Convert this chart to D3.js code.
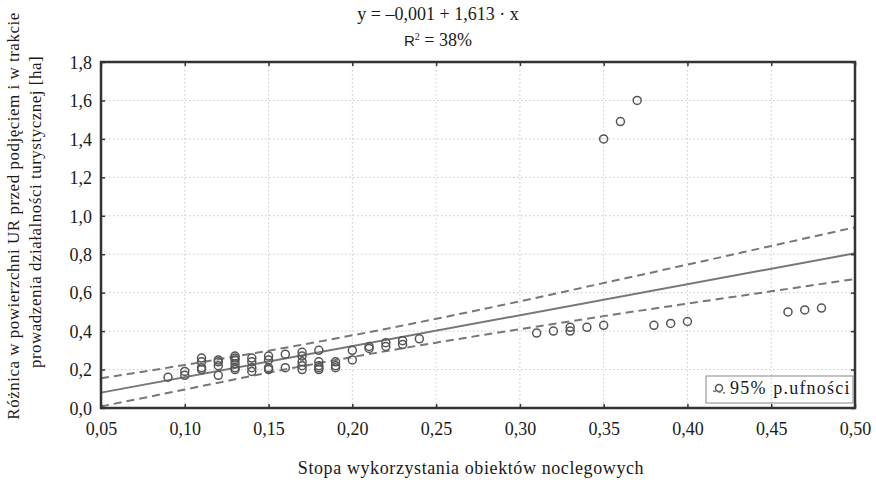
<!DOCTYPE html>
<html>
<head>
<meta charset="utf-8">
<script src="https://cdn.jsdelivr.net/npm/d3@7"></script>
<style>
  html, body { margin: 0; padding: 0; background: #fff; }
  svg { display: block; }
</style>
</head>
<body>
<svg id="chart" width="876" height="482"></svg>
<script>
// ---- data ----
const pointX = [0.09, 0.10, 0.10,
  0.11, 0.11, 0.11, 0.11,
  0.12, 0.12, 0.12, 0.12,
  0.13, 0.13, 0.13, 0.13, 0.13, 0.13,
  0.14, 0.14, 0.14, 0.14,
  0.15, 0.15, 0.15, 0.15,
  0.16, 0.16,
  0.17, 0.17, 0.17, 0.17, 0.17,
  0.18, 0.18, 0.18, 0.18, 0.18,
  0.19, 0.19, 0.19,
  0.20, 0.20,
  0.21, 0.21,
  0.22, 0.22,
  0.23, 0.23,
  0.24,
  0.31, 0.32, 0.33, 0.33, 0.34, 0.35, 0.35, 0.36, 0.37,
  0.38, 0.39, 0.40, 0.46, 0.47, 0.48];
const pointY = [0.16, 0.19, 0.17,
  0.26, 0.24, 0.21, 0.20,
  0.25, 0.24, 0.22, 0.17,
  0.27, 0.26, 0.25, 0.23, 0.21, 0.20,
  0.26, 0.24, 0.21, 0.19,
  0.27, 0.25, 0.21, 0.20,
  0.28, 0.21,
  0.29, 0.27, 0.24, 0.22, 0.20,
  0.30, 0.24, 0.22, 0.21, 0.20,
  0.24, 0.22, 0.21,
  0.30, 0.25,
  0.31, 0.32,
  0.32, 0.34,
  0.33, 0.35,
  0.36,
  0.39, 0.40, 0.40, 0.42, 0.42, 0.43, 1.40, 1.49, 1.60,
  0.43, 0.44, 0.45, 0.50, 0.51, 0.52];

// regression line y = -0,001 + 1,613 x (end points)
const fitX = [0.05, 0.50];
const fitY = [0.080, 0.805];

// 95% confidence band
const bandX = [0.05, 0.10, 0.15, 0.20, 0.25, 0.30, 0.35, 0.40, 0.45, 0.50];
const bandUpper = [0.155, 0.224, 0.298, 0.378, 0.464, 0.555, 0.650, 0.746, 0.843, 0.940];
const bandLower = [0.008, 0.096, 0.184, 0.265, 0.340, 0.410, 0.478, 0.543, 0.607, 0.671];

const xTicks = [0.05, 0.10, 0.15, 0.20, 0.25, 0.30, 0.35, 0.40, 0.45, 0.50];
const yTicks = [0.0, 0.2, 0.4, 0.6, 0.8, 1.0, 1.2, 1.4, 1.6, 1.8];

const titleLine1 = "y = \u20130,001 + 1,613 \u00b7 x";
const xTitle = "Stopa wykorzystania obiektów noclegowych";
const yTitle1 = "Różnica w powierzchni UR przed podjęciem i w trakcie";
const yTitle2 = "prowadzenia działalności turystycznej [ha]";
const legendLabel = "95% p.ufności";

// ---- layout ----
const SERIF = "'Liberation Serif', 'Times New Roman', Tinos, 'DejaVu Serif', serif";
const INK = "#1a1a1a";
const L = 101, R = 855, T = 62, B = 408;
const svg = d3.select("#chart");
const x = d3.scaleLinear().domain([0.05, 0.50]).range([L, R]);
const y = d3.scaleLinear().domain([0, 1.8]).range([B, T]);
const fmt = (d, n) => d.toFixed(n).replace(".", ",");

// grid
const grid = svg.append("g").attr("stroke", "#c8c8c8").attr("stroke-width", 1).attr("stroke-dasharray", "1.5,2.5");
grid.selectAll("line.gx").data(xTicks.slice(1, -1)).join("line")
  .attr("x1", d => x(d)).attr("x2", d => x(d)).attr("y1", T).attr("y2", B);
grid.selectAll("line.gy").data(yTicks.slice(1, -1)).join("line")
  .attr("y1", d => y(d)).attr("y2", d => y(d)).attr("x1", L).attr("x2", R);

// band
const bandLine = d3.line().curve(d3.curveMonotoneX).x(d => x(d[0])).y(d => y(d[1]));
[bandUpper, bandLower].forEach(arr => {
  svg.append("path").datum(bandX.map((v, i) => [v, arr[i]]))
    .attr("d", bandLine).attr("fill", "none").attr("stroke", "#777")
    .attr("stroke-width", 2).attr("stroke-dasharray", "8,5");
});

// fit
svg.append("path").datum(fitX.map((v, i) => [v, fitY[i]]))
  .attr("d", d3.line().x(d => x(d[0])).y(d => y(d[1])))
  .attr("fill", "none").attr("stroke", "#777").attr("stroke-width", 2);

// points
svg.append("g").selectAll("circle").data(pointX.map((v, i) => [v, pointY[i]])).join("circle")
  .attr("cx", d => x(d[0])).attr("cy", d => y(d[1])).attr("r", 4)
  .attr("fill", "none").attr("stroke", "#555").attr("stroke-width", 1.5);

// axes with inner ticks
const axB = svg.append("g").attr("transform", `translate(0,${B})`)
  .call(d3.axisBottom(x).tickValues(xTicks).tickSizeInner(-4).tickSizeOuter(0).tickPadding(14).tickFormat(d => fmt(d, 2)));
const axL = svg.append("g").attr("transform", `translate(${L},0)`)
  .call(d3.axisLeft(y).tickValues(yTicks).tickSizeInner(-4).tickSizeOuter(0).tickPadding(9).tickFormat(d => fmt(d, 1)));
const axT = svg.append("g").attr("transform", `translate(0,${T})`)
  .call(d3.axisTop(x).tickValues(xTicks).tickSizeInner(-4).tickSizeOuter(0).tickFormat(""));
const axR = svg.append("g").attr("transform", `translate(${R},0)`)
  .call(d3.axisRight(y).tickValues(yTicks).tickSizeInner(-4).tickSizeOuter(0).tickFormat(""));
[axB, axL, axT, axR].forEach(a => {
  a.attr("font-family", null).attr("font-size", null);
  a.select(".domain").remove();
  a.selectAll(".tick line").attr("stroke", "#333").attr("stroke-width", 1.5);
  a.selectAll("text").style("font-family", SERIF).style("font-size", "18px").attr("fill", INK);
});
axL.selectAll("text").attr("dy", "0.35em");

// frame
svg.append("rect").attr("x", L).attr("y", T).attr("width", R - L).attr("height", B - T)
  .attr("fill", "none").attr("stroke", "#333").attr("stroke-width", 2.5);

// legend
const lg = svg.append("g");
lg.append("rect").attr("x", 706).attr("y", 376).attr("width", 147).attr("height", 27)
  .attr("fill", "none").attr("stroke", "#888").attr("stroke-width", 1);
lg.append("circle").attr("cx", 719).attr("cy", 388).attr("r", 3.5).attr("fill", "none").attr("stroke", "#555").attr("stroke-width", 1.5);
lg.append("line").attr("x1", 713).attr("x2", 725).attr("y1", 391).attr("y2", 393).attr("stroke", "#777").attr("stroke-width", 1.5).attr("stroke-dasharray", "3,2");
lg.append("text").attr("x", 730).attr("y", 394).style("font-family", SERIF).style("font-size", "18px")
  .attr("letter-spacing", "1.2px").attr("word-spacing", "1px").attr("fill", INK).text(legendLabel);

// titles
svg.append("text").attr("x", 438).attr("y", 20).attr("text-anchor", "middle")
  .style("font-family", SERIF).style("font-size", "18px").attr("fill", INK).text(titleLine1);
const t2 = svg.append("text").attr("x", 438).attr("y", 46).attr("text-anchor", "middle")
  .style("font-family", SERIF).style("font-size", "18px").attr("fill", INK);
t2.append("tspan").style("font-family", "'Liberation Sans', Arial, sans-serif").style("font-size", "15px").text("R");
t2.append("tspan").style("font-size", "10px").attr("dy", -6).text("2");
t2.append("tspan").attr("dy", 6).text(" = 38%");

svg.append("text").attr("x", 471).attr("y", 474).attr("text-anchor", "middle")
  .style("font-family", SERIF).style("font-size", "18px").attr("fill", INK)
  .attr("letter-spacing", "0.6px").text(xTitle);

svg.append("text").attr("transform", "translate(19,216) rotate(-90)").attr("text-anchor", "middle")
  .style("font-family", SERIF).style("font-size", "17px").attr("fill", INK)
  .attr("letter-spacing", "0.5px").text(yTitle1);
svg.append("text").attr("transform", "translate(41,212) rotate(-90)").attr("text-anchor", "middle")
  .style("font-family", SERIF).style("font-size", "17px").attr("fill", INK)
  .attr("letter-spacing", "0.5px").text(yTitle2);
</script>
</body>
</html>
